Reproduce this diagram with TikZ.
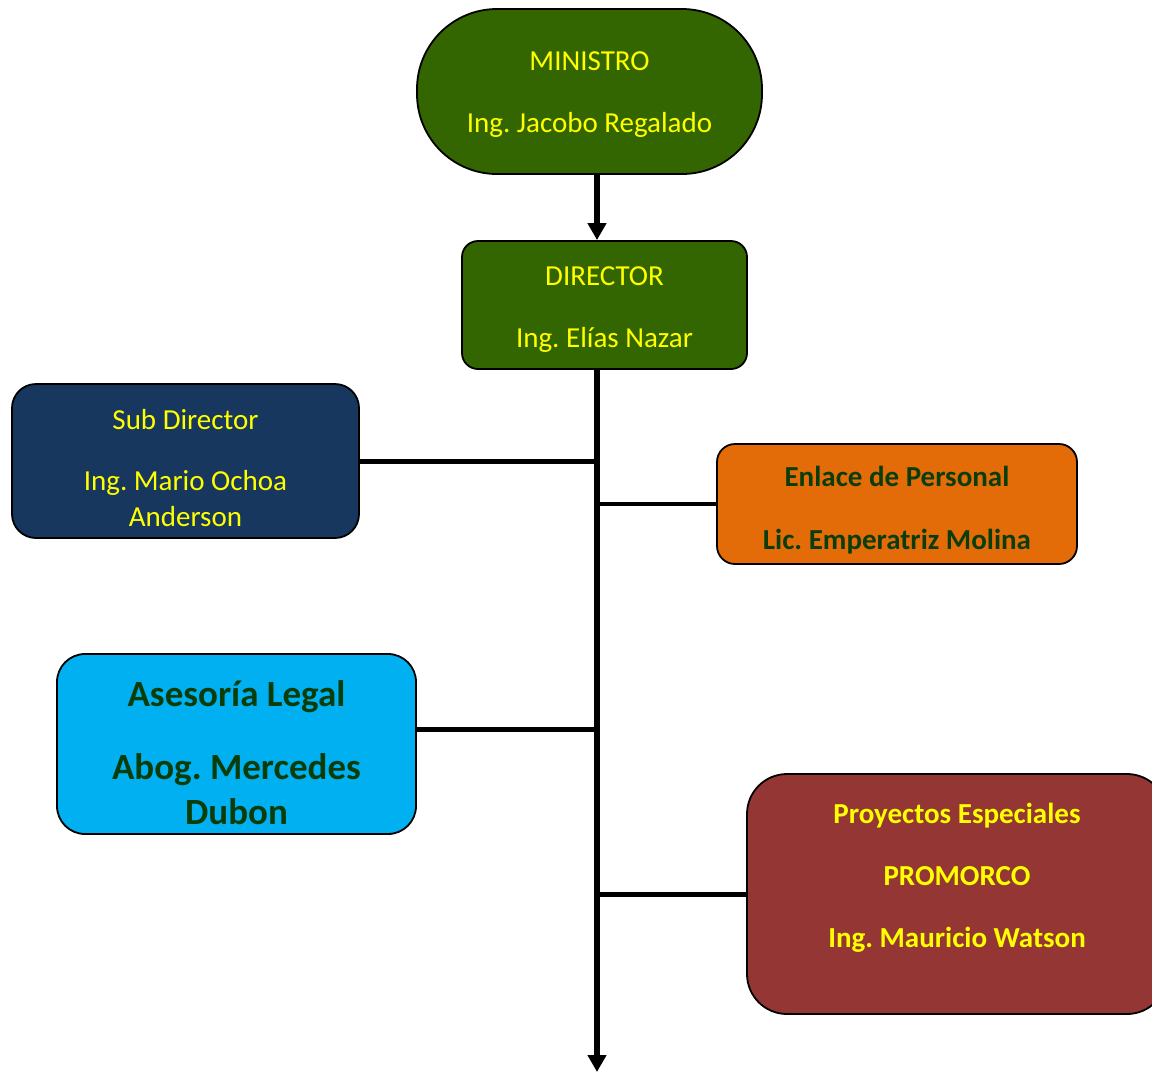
\documentclass[tikz,border=0pt]{standalone}
\usepackage{fontspec}
\setmainfont{Carlito}
\frenchspacing
\usetikzlibrary{arrows.meta}
\definecolor{boxgreen}{HTML}{336600}
\definecolor{navy}{HTML}{17375E}
\definecolor{orangebox}{HTML}{E36C09}
\definecolor{skyblue}{HTML}{00B0F0}
\definecolor{maroon}{HTML}{943634}
\definecolor{txtyellow}{HTML}{FFFF00}
\definecolor{txtgreen}{HTML}{0A3D0A}
\tikzset{
  box/.style={draw=black, line width=1.8pt, inner sep=0pt},
  lbl/.style={align=center, anchor=base, inner sep=0pt},
  conn/.style={draw=black, line width=5pt},
  spineline/.style={draw=black, line width=5.5pt},
  tip/.style={-{Triangle[width=18pt,length=17pt]}}
}
\begin{document}
\frenchspacing
\begin{tikzpicture}[x=1pt,y=-1pt]
\useasboundingbox (0,0) rectangle (1152,1072);
\coordinate (spine) at (597,0);
\coordinate (bottom) at (597,1072);
% boxes
\node[box, fill=boxgreen, rounded corners=80pt, minimum width=345pt, minimum height=165pt] (min) at (589.5,91.5) {};
\node[box, fill=boxgreen, rounded corners=16pt, minimum width=285pt, minimum height=128pt] (dir) at (604.5,305) {};
\node[box, fill=navy, rounded corners=24pt, minimum width=347pt, minimum height=154pt] (sub) at (185.5,461) {};
\node[box, fill=orangebox, rounded corners=18pt, minimum width=360pt, minimum height=120pt] (enl) at (897,504) {};
\node[box, fill=skyblue, rounded corners=28pt, minimum width=359pt, minimum height=180pt] (ase) at (236.5,744) {};
\node[box, fill=maroon, rounded corners=40pt, minimum width=420pt, minimum height=240pt] (pro) at (957,894) {};
% texts (anchor base = baseline of last line)
\node[lbl, text=txtyellow, font=\fontsize{29}{62}\selectfont] (mint) at (589.5,132) {MINISTRO\\Ing. Jacobo Regalado};
\node[lbl, text=txtyellow, font=\fontsize{29}{62}\selectfont] (dirt) at (604.5,347) {DIRECTOR\\Ing. Elías Nazar};
\node[lbl, text=txtyellow, font=\fontsize{29}{36}\selectfont] (subt) at (185.5,526) {Sub Director\\[25pt]Ing. Mario Ochoa\\Anderson};
\node[lbl, text=txtgreen, font=\fontsize{29}{63}\selectfont\bfseries] (enlt) at (897,549) {Enlace de Personal\\Lic. Emperatriz Molina};
\node[lbl, text=txtgreen, font=\fontsize{37}{45}\selectfont\bfseries] (aset) at (236.5,824) {Asesoría Legal\\[28pt]Abog. Mercedes\\Dubon};
\node[lbl, text=txtyellow, font=\fontsize{29}{62}\selectfont\bfseries] (prot) at (957,947) {Proyectos Especiales\\PROMORCO\\Ing. Mauricio Watson};
% connectors
\draw[spineline, tip] (min.south -| spine) -- (dir.north -| spine);
\draw[spineline, tip] (dir.south -| spine) -- (bottom);
\draw[conn] (sub.east) -- (sub.east -| spine);
\draw[conn, line width=3.5pt] (enl.west) -- (enl.west -| spine);
\draw[conn] ([yshift=15pt]ase.east) -- ([yshift=15pt]ase.east -| spine);
\draw[conn] (pro.west) -- (pro.west -| spine);
\end{tikzpicture}
\end{document}
